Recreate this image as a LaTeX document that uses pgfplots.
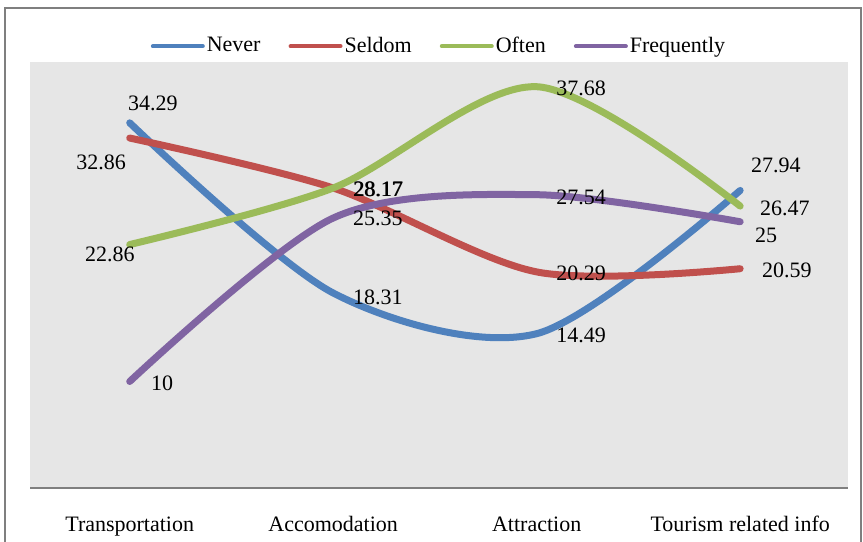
\documentclass[border=0pt]{standalone}
\usepackage{pgfplots}
\pgfplotsset{compat=1.18}
\usepackage{fontspec}
\setmainfont{Liberation Serif}
\definecolor{cNever}{HTML}{4F81BD}
\definecolor{cSeldom}{HTML}{C0504D}
\definecolor{cOften}{HTML}{9BBB59}
\definecolor{cFreq}{HTML}{8064A2}
\definecolor{plotbg}{HTML}{E6E6E6}
\definecolor{framegray}{HTML}{7F7F7F}
\begin{document}
\fontsize{11bp}{13bp}\selectfont
\begin{tikzpicture}
\useasboundingbox (-15bp,-27bp) rectangle (416.5bp,244bp);
\draw[framegray, line width=1bp] (-12.5bp,-40bp) rectangle (415.5bp,240bp);
\begin{axis}[
  at={(0,0)}, anchor=south west,
  scale only axis,
  width=409bp, height=213bp,
  xmin=-0.49, xmax=3.53,
  ymin=0, ymax=40,
  axis background/.style={fill=plotbg},
  axis line style={draw=none},
  major tick length=0pt,
  ytick=\empty,
  xtick={0,1,2,3},
  xticklabels={Transportation,Accomodation,Attraction,Tourism related info},
  xticklabel style={anchor=base, yshift=-21.5bp, font=\fontsize{11bp}{13bp}\selectfont},
  clip=false,
  legend columns=4,
  legend style={at={(0.5,1)}, anchor=south, yshift=0bp, draw=none, fill=none,
    font=\fontsize{11bp}{13bp}\selectfont,
    nodes={inner sep=1bp},
    /tikz/every even column/.append style={column sep=13bp}},
  legend image code/.code={\draw[#1, line width=2bp] (0bp,0bp) -- (25bp,0bp);},
  every axis plot/.append style={line width=3.5bp, line cap=round, smooth, tension=0.5, mark=none},
]
\draw[framegray, line width=1bp] (rel axis cs:0,0) -- (rel axis cs:1,0);
\addplot[cNever] coordinates {(0,34.29) (1,18.31) (2,14.49) (3,27.94)};
\addlegendentry{Never}
\addplot[cSeldom] coordinates {(0,32.86) (1,28.17) (2,20.29) (3,20.59)};
\addlegendentry{Seldom}
\addplot[cOften] coordinates {(0,22.86) (1,28.17) (2,37.68) (3,26.47)};
\addlegendentry{Often}
\addplot[cFreq] coordinates {(0,10) (1,25.35) (2,27.54) (3,25)};
\addlegendentry{Frequently}
% data labels
\node at (axis cs:0.114,36.15) {34.29};
\node at (axis cs:1.220,17.93) {18.31};
\node at (axis cs:2.218,14.37) {14.49};
\node at (axis cs:3.176,30.33) {27.94};
\node at (axis cs:-0.141,30.61) {32.86};
\node at (axis cs:1.220,28.08) {28.17};
\node at (axis cs:2.218,20.19) {20.29};
\node at (axis cs:3.230,20.47) {20.59};
\node at (axis cs:-0.097,21.97) {22.86};
\node at (axis cs:1.223,28.08) {28.17};
\node at (axis cs:2.218,37.56) {37.68};
\node at (axis cs:3.220,26.29) {26.47};
\node at (axis cs:0.159,9.86) {10};
\node at (axis cs:1.220,25.35) {25.35};
\node at (axis cs:2.218,27.32) {27.54};
\node at (axis cs:3.127,23.76) {25};
\end{axis}
\end{tikzpicture}
\end{document}
